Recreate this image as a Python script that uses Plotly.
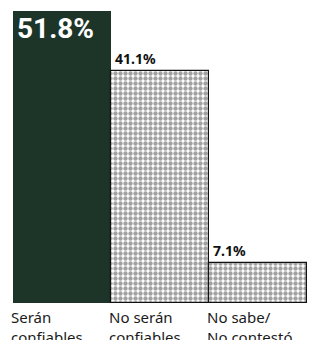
import plotly.graph_objects as go

categories = ["Serán confiables", "No serán confiables", "No sabe/No contestó"]
tick_labels = ["Serán<br>confiables", "No serán<br>confiables", "No sabe/<br>No contestó"]
values = [51.8, 41.1, 7.1]
value_labels = ["51.8%", "41.1%", "7.1%"]

fig = go.Figure()
fig.add_trace(go.Bar(
    x=categories,
    y=values,
    marker=dict(
        color=["#1d3528", "white", "white"],
        line=dict(color=["#1d3528", "#111111", "#111111"], width=1.2),
        pattern=dict(
            shape=["", ".", "."],
            fgcolor="#111111",
            bgcolor="white",
            size=5,
            solidity=0.6,
        ),
    ),
    hoverinfo="skip",
))

annotations = []
# big label inside first bar
annotations.append(dict(
    x=-0.5, y=values[0], xref="x", yref="y",
    text=value_labels[0], showarrow=False,
    xanchor="left", yanchor="top", xshift=2, yshift=1,
    font=dict(family="Roboto, sans-serif", size=28, color="white", weight="bold"),
))
for i in (1, 2):
    annotations.append(dict(
        x=i - 0.5, y=values[i], xref="x", yref="y",
        text=value_labels[i], showarrow=False,
        xanchor="left", yanchor="bottom", xshift=2, yshift=1,
        font=dict(family="Noto Sans, sans-serif", size=14, color="#111111", weight="bold"),
    ))
for i, lab in enumerate(tick_labels):
    annotations.append(dict(
        x=i - 0.5, y=0, xref="x", yref="paper",
        text=lab, showarrow=False, align="left",
        xanchor="left", yanchor="top", xshift=-4, yshift=-2,
        font=dict(family="Noto Sans, sans-serif", size=15, color="#1a1a1a"),
    ))

fig.update_layout(
    width=307, height=332,
    margin=dict(l=5, r=8, t=3, b=37),
    paper_bgcolor="white", plot_bgcolor="white",
    bargap=0,
    showlegend=False,
    annotations=annotations,
    xaxis=dict(showticklabels=False, showgrid=False, zeroline=False, showline=False,
               range=[-0.5, 2.5]),
    yaxis=dict(range=[0, 51.8], visible=False, showgrid=False, zeroline=False),
)

fig.write_html("out.html")
